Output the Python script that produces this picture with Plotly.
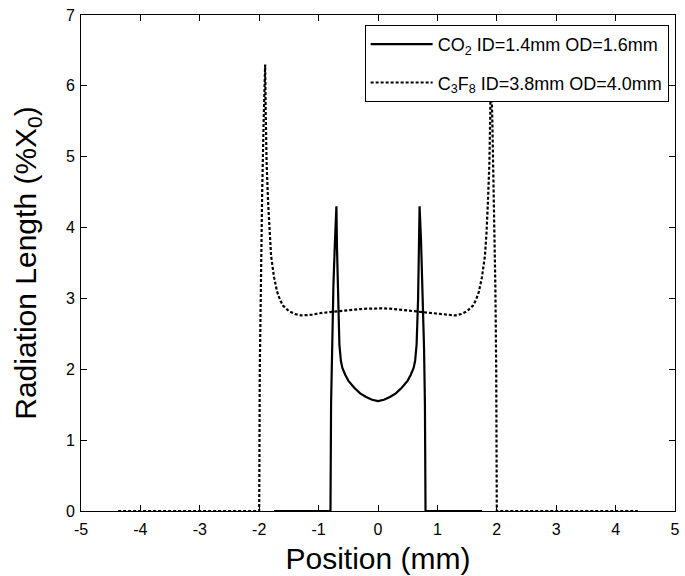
import plotly.graph_objects as go

# CO2 tube: ID=1.4mm OD=1.6mm
co2_x = [-1.75, -0.8, -0.79, -0.775, -0.75, -0.725, -0.7, -0.69, -0.675, -0.65, -0.625, -0.6, -0.55,
         -0.5, -0.4, -0.3, -0.2, -0.1, 0.0,
         0.1, 0.2, 0.3, 0.4, 0.5, 0.55, 0.6, 0.625, 0.65, 0.675, 0.69, 0.7, 0.725, 0.75, 0.775, 0.79,
         0.8, 1.75]
co2_y = [0.0, 0.0, 1.5, 2.3, 3.2, 3.8, 4.3, 3.7, 3.0, 2.35, 2.12, 2.02, 1.92,
         1.84, 1.74, 1.66, 1.61, 1.57, 1.55,
         1.57, 1.61, 1.66, 1.74, 1.84, 1.92, 2.02, 2.12, 2.35, 3.0, 3.7, 4.3, 3.8, 3.2, 2.3, 1.5,
         0.0, 0.0]

# C3F8 tube: ID=3.8mm OD=4.0mm
c3f8_x = [-4.375, -2.0, -1.99, -1.975, -1.95, -1.925, -1.9, -1.89, -1.875, -1.85, -1.825, -1.8,
          -1.75, -1.7, -1.65, -1.6, -1.5, -1.4, -1.3, -1.2, -1.1, -1.0, -0.9, -0.8, -0.7, -0.6,
          -0.5, -0.4, -0.3, -0.2, -0.1, 0.0,
          0.1, 0.2, 0.3, 0.4, 0.5, 0.6, 0.7, 0.8, 0.9, 1.0, 1.1, 1.2, 1.3, 1.4, 1.5, 1.6, 1.65,
          1.7, 1.75, 1.8, 1.825, 1.85, 1.875, 1.89, 1.9, 1.925, 1.95, 1.975, 1.99, 2.0, 4.375]
c3f8_y = [0.0, 0.0, 2.0, 3.2, 4.5, 5.5, 6.3, 5.6, 4.9, 4.35, 3.9, 3.6,
          3.3, 3.1, 2.98, 2.9, 2.82, 2.78, 2.76, 2.76, 2.77, 2.79, 2.8, 2.8, 2.81, 2.82,
          2.83, 2.84, 2.85, 2.855, 2.86, 2.86,
          2.86, 2.855, 2.85, 2.84, 2.83, 2.82, 2.81, 2.8, 2.8, 2.79, 2.77, 2.76, 2.76, 2.78, 2.82, 2.9, 2.98,
          3.1, 3.3, 3.6, 3.9, 4.35, 4.9, 5.6, 6.3, 5.5, 4.5, 3.2, 2.0, 0.0, 0.0]

x_ticks = [-5, -4, -3, -2, -1, 0, 1, 2, 3, 4, 5]
y_ticks = [0, 1, 2, 3, 4, 5, 6, 7]

FONT = "Liberation Sans, Arial, sans-serif"

fig = go.Figure()
fig.add_trace(go.Scatter(
    x=co2_x, y=co2_y, mode="lines",
    name="CO<sub>2</sub> ID=1.4mm OD=1.6mm",
    line=dict(color="black", width=2.2),
    legendgroup="a",
))
fig.add_trace(go.Scatter(
    x=c3f8_x, y=c3f8_y, mode="lines",
    name="C<sub>3</sub>F<sub>8</sub> ID=3.8mm OD=4.0mm",
    line=dict(color="black", width=2.2, dash="3px,2px"),
    legendgroup="b",
))

axis_common = dict(
    showgrid=False, zeroline=False,
    showline=True, linecolor="black", linewidth=1, mirror="ticks",
    ticks="inside", ticklen=6, tickcolor="black", tickwidth=1,
    tickfont=dict(family=FONT, size=16, color="black"),
)

fig.update_layout(
    width=685, height=576,
    margin=dict(l=81, r=5, t=15, b=65),
    paper_bgcolor="white", plot_bgcolor="white",
    font=dict(family=FONT, color="black"),
    xaxis=dict(range=[-5, 5], tickvals=x_ticks, ticktext=[str(v) for v in x_ticks],
               ticklabelstandoff=4,
               title=dict(text="Position (mm)", font=dict(family=FONT, size=30), standoff=10),
               **axis_common),
    yaxis=dict(range=[0, 7], tickvals=y_ticks, ticktext=[str(v) for v in y_ticks],
               ticklabelstandoff=2,
               title=dict(text="Radiation Length (%X<sub>0</sub>)", font=dict(family=FONT, size=30), standoff=20),
               **axis_common),
    legend=dict(
        x=0.4775, y=0.98, xanchor="left", yanchor="top",
        bgcolor="white", bordercolor="black", borderwidth=1,
        font=dict(family=FONT, size=18, color="black"),
        itemwidth=62, tracegroupgap=12,
    ),
)

fig.write_html("out.html")
